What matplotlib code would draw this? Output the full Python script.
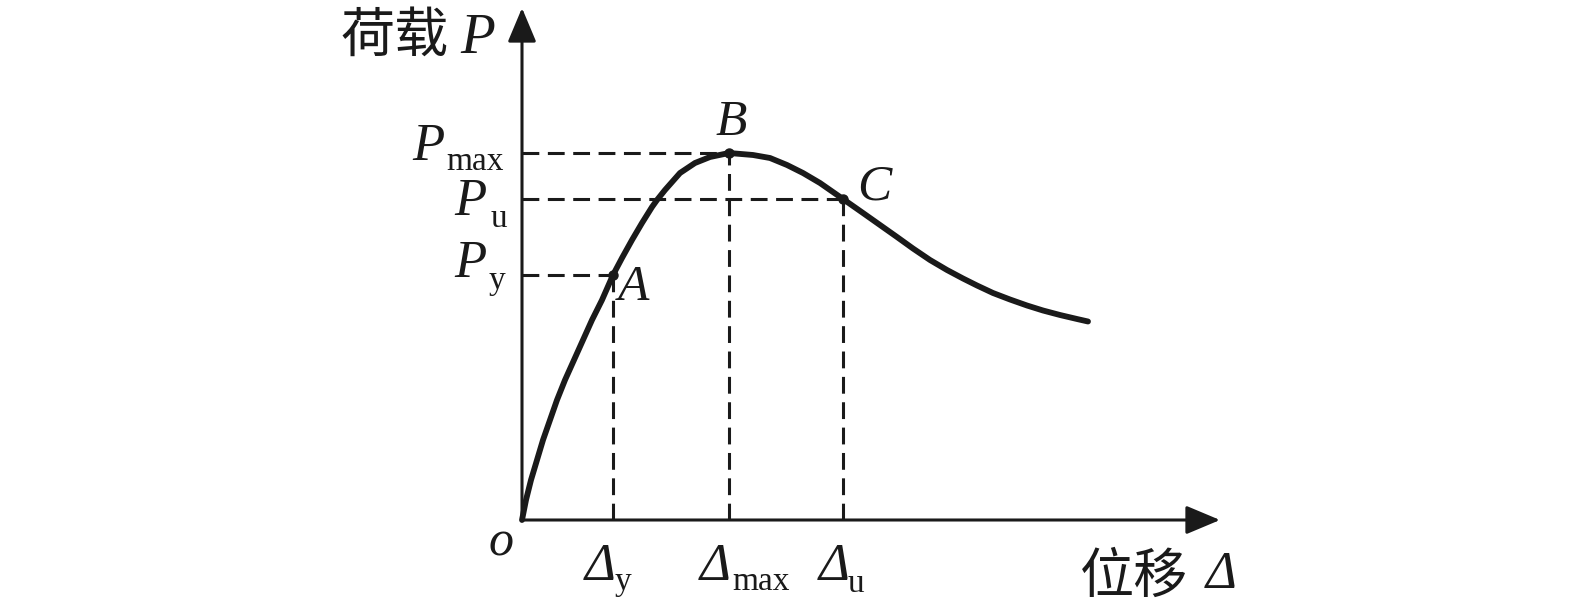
import matplotlib
matplotlib.use("Agg")
import matplotlib.pyplot as plt

# load-displacement curve (origin at the axes corner)
disp = [0, 4, 9, 15, 21, 28, 35, 43, 52, 61, 70, 80, 91, 100, 110, 120, 130, 135, 143,
        158, 173, 188, 207, 231, 248, 265, 281, 298, 321, 341, 358, 375, 391, 408, 425,
        441, 455, 471, 488, 505, 521, 538, 555, 566]
load = [0, 20, 40, 60, 80, 100, 120, 140, 160, 180, 200, 220, 245, 262, 280, 297, 313,
        320, 330, 347, 357, 363, 367, 365, 362, 355, 347, 337, 321, 307, 295, 283, 271.5,
        260, 250, 241.5, 234.5, 227, 220.5, 214.5, 209.5, 205, 201, 198.5]

# characteristic points: yield A, peak B, ultimate C (indices into the curve)
pts = {"A": 12, "B": 22, "C": 28}

serif = "Liberation Serif"
cjk = "Noto Sans CJK SC"
ink = "#1a1a1a"

fig = plt.figure(figsize=(15.75, 6.15), dpi=100)
ax = fig.add_axes([0, 0, 1, 1])
ax.set_xlim(-522, 1053)
ax.set_ylim(-95, 520)
ax.axis("off")

# axes with arrows
arrow = dict(arrowstyle="-|>,head_length=1.0,head_width=0.42", color=ink,
             lw=2.2, shrinkA=0, shrinkB=0, mutation_scale=21)
ax.annotate("", xy=(698, 0), xytext=(0, 0), arrowprops=arrow)
ax.annotate("", xy=(0, 512), xytext=(0, 0), arrowprops=arrow)

# dashed guide lines
for k in ["A", "B", "C"]:
    i = pts[k]
    ax.plot([0, disp[i]], [load[i], load[i]], color=ink, lw=2.2, dashes=(5.5, 2.8))
    ax.plot([disp[i], disp[i]], [0, load[i]], color=ink, lw=2.2, dashes=(5.5, 2.8))

ax.plot(disp, load, color=ink, lw=4.2, solid_capstyle="round",
        solid_joinstyle="round", zorder=3)
ax.plot([disp[pts[k]] for k in pts], [load[pts[k]] for k in pts], "o",
        color=ink, ms=6.5, zorder=4)

it = dict(family=serif, style="italic", color=ink)
rm = dict(family=serif, color=ink)

# axis titles
ax.text(-182, 484, "荷载", family=cjk, fontweight="light", fontsize=39, va="center",
        ha="left", color=ink)
ax.text(-62, 467, "P", fontsize=41, **it)
ax.text(558, -57, "位移", family=cjk, fontweight="light", fontsize=39, va="center",
        ha="left", color=ink)
ax.text(684, -68, "Δ", fontsize=38, **it)

# point letters
ax.text(96, 220, "A", fontsize=37, **it)
ax.text(194, 385, "B", fontsize=37, **it)
ax.text(335, 320, "C", fontsize=37, **it)
ax.text(-33, -36, "o", fontsize=36, **it)

# load labels
ax.text(-110, 360, "P", fontsize=38, **it)
ax.text(-76, 350, "max", fontsize=24, **rm)
ax.text(-68, 305, "P", fontsize=38, **it)
ax.text(-31, 293, "u", fontsize=24, **rm)
ax.text(-68, 243, "P", fontsize=38, **it)
ax.text(-33, 231, "y", fontsize=24, **rm)

# displacement labels
ax.text(63, -60, "Δ", fontsize=38, **it)
ax.text(93, -70, "y", fontsize=24, **rm)
ax.text(178, -60, "Δ", fontsize=38, **it)
ax.text(210, -70, "max", fontsize=24, **rm)
ax.text(297, -60, "Δ", fontsize=38, **it)
ax.text(326, -72, "u", fontsize=24, **rm)

fig.savefig("out.png", dpi=100, facecolor="white")
